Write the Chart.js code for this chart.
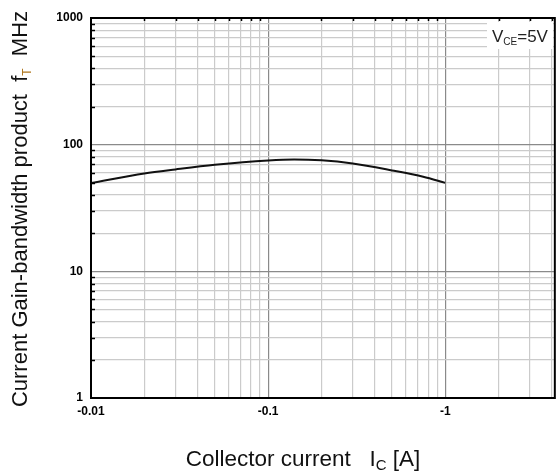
<!DOCTYPE html>
<html>
<head>
<meta charset="utf-8">
<script src="https://cdn.jsdelivr.net/npm/chart.js@4/dist/chart.umd.min.js"></script>
<style>
  html, body { margin: 0; padding: 0; background: #fff; }
  #wrap { width: 558px; height: 473px; }
</style>
</head>
<body>
<div id="wrap"><canvas id="ft-graph"></canvas></div>
<script>
// collector current (magnitude, A) and transition frequency (MHz)
const currentA = [0.01, 0.02, 0.03, 0.05, 0.1, 0.14, 0.2, 0.3, 0.5, 0.75, 1.0];
const ftMHz = [49.9, 59.3, 63.8, 69.3, 75.0, 76.4, 75.2, 71.0, 62.6, 55.8, 49.9];
const xTickLabels = ['-0.01', '-0.1', '-1'];
const yTickLabels = ['1', '10', '100', '1000'];
const xMin = 0.01, xMax = 4.15;
const yMin = 1, yMax = 1000;

const FONT = '"Liberation Sans", Arial, sans-serif';

function logTicks(min, max) {
    const out = [];
    for (let d = Math.pow(10, Math.floor(Math.log10(min))); d <= max; d *= 10) {
        for (let m = 1; m <= 9; m++) {
            const v = +(m * d).toPrecision(3);
            if (v >= min - 1e-9 && v <= max + 1e-9) out.push(v);
        }
    }
    return out;
}
function isDecade(v) {
    const l = Math.log10(v);
    return Math.abs(l - Math.round(l)) < 1e-6;
}

// draws text pieces [text, size, dy, color] one after another
function drawPieces(c, pieces, x, y) {
    pieces.forEach(p => {
        c.font = p[1] + 'px ' + FONT;
        c.fillStyle = p[3] || '#111';
        c.fillText(p[0], x, y + (p[2] || 0));
        x += c.measureText(p[0]).width;
    });
}
function piecesWidth(c, pieces) {
    let w = 0;
    pieces.forEach(p => { c.font = p[1] + 'px ' + FONT; w += c.measureText(p[0]).width; });
    return w;
}

const titlesPlugin = {
    id: 'titles',
    afterDraw(chart) {
        const c = chart.ctx;
        const a = chart.chartArea;
        const xs = chart.scales.x, ys = chart.scales.y;
        c.save();
        // small inner ticks on left and top axes
        c.strokeStyle = '#000';
        c.lineWidth = 1.5;
        logTicks(yMin, yMax).forEach(v => {
            if (isDecade(v)) return;
            const py = Math.round(ys.getPixelForValue(v)) + 0.5;
            c.beginPath(); c.moveTo(a.left, py); c.lineTo(a.left + 4, py); c.stroke();
        });
        logTicks(xMin, xMax).forEach(v => {
            if (isDecade(v)) return;
            const px = Math.round(xs.getPixelForValue(v)) + 0.5;
            c.beginPath(); c.moveTo(px, a.top); c.lineTo(px, a.top + 3); c.stroke();
        });
        // frame
        c.lineWidth = 2;
        c.strokeRect(a.left, a.top, a.right - a.left, a.bottom - a.top);

        // condition label
        c.fillStyle = '#fff';
        c.fillRect(487, 22, 66, 27);
        c.textBaseline = 'alphabetic';
        c.textAlign = 'left';
        drawPieces(c, [['V', 17, 0, '#222'], ['CE', 10, 3, '#222'], ['=5V', 17, 0, '#222']], 492, 42);

        // x title
        const xp = [['Collector current   I', 22.5], ['C', 15, 4], [' [A]', 22.5]];
        drawPieces(c, xp, 303 - piecesWidth(c, xp) / 2, 466);

        // y title (rotated)
        c.translate(27, 209);
        c.rotate(-Math.PI / 2);
        const yp = [['Current Gain-bandwidth product  f', 22], ['T', 12, 4, '#b07820'], ['  MHz', 22]];
        drawPieces(c, yp, -piecesWidth(c, yp) / 2, 0);
        c.restore();
    }
};

const ctx = document.getElementById('ft-graph').getContext('2d');
new Chart(ctx, {
    type: 'line',
    data: {
        datasets: [{
            label: 'fT',
            data: currentA.map((ic, i) => ({ x: ic, y: ftMHz[i] })),
            borderColor: '#111',
            borderWidth: 2,
            pointRadius: 0,
            fill: false,
            cubicInterpolationMode: 'monotone'
        }]
    },
    options: {
        responsive: true,
        maintainAspectRatio: false,
        animation: false,
        layout: { padding: { top: 18, right: 1, left: 0, bottom: 0 } },
        plugins: {
            legend: { display: false },
            tooltip: { enabled: false }
        },
        scales: {
            x: {
                type: 'logarithmic',
                min: xMin,
                max: xMax,
                afterBuildTicks: s => { s.ticks = logTicks(xMin, xMax).map(v => ({ value: v })); },
                afterFit: s => { s.height = 75; },
                grid: {
                    color: c => isDecade(c.tick.value) ? '#8a8a8a' : '#cbcbcb',
                    lineWidth: 1.2,
                    drawTicks: false
                },
                border: { color: '#000', width: 2 },
                ticks: {
                    autoSkip: false,
                    maxRotation: 0,
                    padding: 6,
                    color: '#000',
                    font: { family: FONT, size: 12, weight: 'bold' },
                    callback: v => isDecade(v) ? xTickLabels[Math.round(Math.log10(v) + 2)] || '' : ''
                }
            },
            y: {
                type: 'logarithmic',
                min: yMin,
                max: yMax,
                afterBuildTicks: s => { s.ticks = logTicks(yMin, yMax).map(v => ({ value: v })); },
                afterFit: s => { s.width = 91; },
                grid: {
                    color: c => isDecade(c.tick.value) ? '#8a8a8a' : '#cbcbcb',
                    lineWidth: 1.2,
                    drawTicks: false
                },
                border: { color: '#000', width: 2 },
                ticks: {
                    autoSkip: false,
                    padding: 8,
                    color: '#000',
                    font: { family: FONT, size: 12, weight: 'bold' },
                    callback: v => isDecade(v) ? yTickLabels[Math.round(Math.log10(v))] || '' : ''
                }
            }
        }
    },
    plugins: [titlesPlugin]
});
</script>
</body>
</html>
